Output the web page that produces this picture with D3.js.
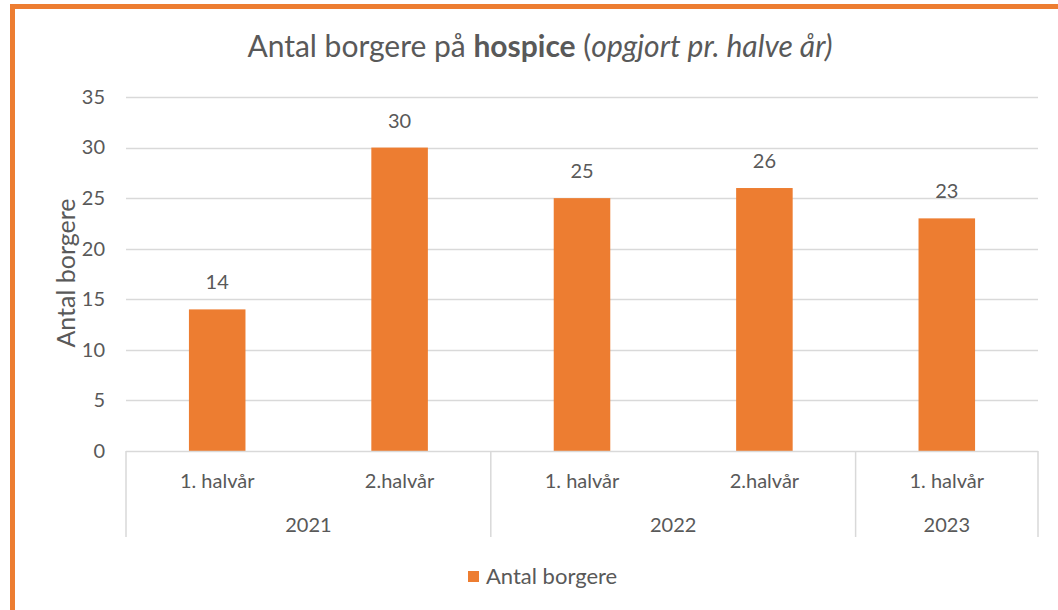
<!DOCTYPE html>
<html>
<head>
<meta charset="utf-8">
<script src="https://cdn.jsdelivr.net/npm/d3@7"></script>
<style>
  body { margin: 0; background: #fff; }
  svg text { font-family: Lato, "Open Sans", sans-serif; fill: #595959; }
</style>
</head>
<body>
<svg id="chart" width="1058" height="610"></svg>
<script>
// data
const years = ["2021", "2021", "2022", "2022", "2023"]
const halves = ["1. halvår", "2.halvår", "1. halvår", "2.halvår", "1. halvår"]
const values = [14, 30, 25, 26, 23]
const yTicks = [0, 5, 10, 15, 20, 25, 30, 35]
const seriesName = "Antal borgere"

const orange = "#ED7D31"
const grey = "#595959"
const gridColor = "#D9D9D9"

const svg = d3.select("#chart")

// frame (top + left orange edge)
svg.append("line").attr("x1", 10).attr("x2", 1058).attr("y1", 6.5).attr("y2", 6.5)
    .attr("stroke", orange).attr("stroke-width", 5)
svg.append("line").attr("x1", 12.5).attr("x2", 12.5).attr("y1", 4).attr("y2", 610)
    .attr("stroke", orange).attr("stroke-width", 5)

const plot = {left: 126, right: 1038, top: 97, bottom: 451}

const keys = values.map((d, i) => i)
const x = d3.scaleBand()
    .domain(keys)
    .range([plot.left, plot.right])
    .paddingInner(0.69)
    .paddingOuter(0.345)

const xOuter = d3.scaleBand().domain(keys).range([plot.left, plot.right])

const y = d3.scaleLinear()
    .domain([0, 35])
    .range([plot.bottom, plot.top])

// gridlines
svg.append("g")
    .selectAll("line")
    .data(yTicks.filter(d => d > 0))
    .join("line")
        .attr("x1", plot.left)
        .attr("x2", plot.right)
        .attr("y1", d => Math.round(y(d)) + 0.5)
        .attr("y2", d => Math.round(y(d)) + 0.5)
        .attr("stroke", gridColor)
        .attr("stroke-width", 1.5)

// y axis labels
const yAxis = d3.axisLeft(y).tickValues(yTicks).tickSize(0).tickPadding(21)
svg.append("g")
    .attr("transform", `translate(${plot.left},0)`)
    .call(yAxis)
    .call(g => g.select(".domain").remove())
    .call(g => g.selectAll("text")
        .attr("font-size", 20)
        .attr("fill", grey)
        .attr("font-family", "Lato"))

// bars
svg.append("g")
    .selectAll("rect")
    .data(values)
    .join("rect")
        .attr("x", (d, i) => x(i))
        .attr("width", x.bandwidth())
        .attr("y", d => y(d))
        .attr("height", d => y(0) - y(d))
        .attr("fill", orange)

// data labels
svg.append("g")
    .selectAll("text")
    .data(values)
    .join("text")
        .attr("x", (d, i) => x(i) + x.bandwidth() / 2)
        .attr("y", d => y(d) - 20)
        .attr("text-anchor", "middle")
        .attr("font-size", 20)
        .text(d => d)

// category axis (two levels)
const axisG = svg.append("g")
axisG.append("line")
    .attr("x1", plot.left).attr("x2", plot.right)
    .attr("y1", plot.bottom + 0.5).attr("y2", plot.bottom + 0.5)
    .attr("stroke", gridColor).attr("stroke-width", 1.5)

axisG.selectAll(".half")
    .data(halves)
    .join("text")
        .attr("class", "half")
        .attr("x", (d, i) => xOuter(i) + xOuter.bandwidth() / 2)
        .attr("y", 488)
        .attr("text-anchor", "middle")
        .attr("font-size", 20)
        .text(d => d)

// year groups
const groups = d3.groups(keys, i => years[i]).map(([yr, idx]) => ({
    year: yr,
    x0: xOuter(idx[0]),
    x1: xOuter(idx[idx.length - 1]) + xOuter.bandwidth()
}))

const seps = [plot.left].concat(groups.map(g => g.x1))
axisG.selectAll(".sep")
    .data(seps)
    .join("line")
        .attr("class", "sep")
        .attr("x1", d => d).attr("x2", d => d)
        .attr("y1", plot.bottom).attr("y2", 537)
        .attr("stroke", gridColor).attr("stroke-width", 1.5)

axisG.selectAll(".year")
    .data(groups)
    .join("text")
        .attr("class", "year")
        .attr("x", d => (d.x0 + d.x1) / 2)
        .attr("y", 532)
        .attr("text-anchor", "middle")
        .attr("font-size", 20)
        .text(d => d.year)

// y axis title
svg.append("text")
    .attr("transform", "translate(75,273) rotate(-90)")
    .attr("text-anchor", "middle")
    .attr("font-size", 25)
    .text(seriesName)

// title
const title = svg.append("text")
    .attr("x", 540)
    .attr("y", 57)
    .attr("text-anchor", "middle")
    .attr("font-size", 30)
title.append("tspan").text("Antal borgere på ")
title.append("tspan").attr("font-weight", "bold").text("hospice")
title.append("tspan").text(" (")
title.append("tspan").attr("font-style", "italic").text("opgjort pr. halve år)")

// legend
const legend = svg.append("g").attr("transform", "translate(468,571)")
legend.append("rect").attr("width", 11).attr("height", 11).attr("fill", orange)
legend.append("text").attr("x", 18).attr("y", 13).attr("font-size", 22).text(seriesName)
</script>
</body>
</html>
